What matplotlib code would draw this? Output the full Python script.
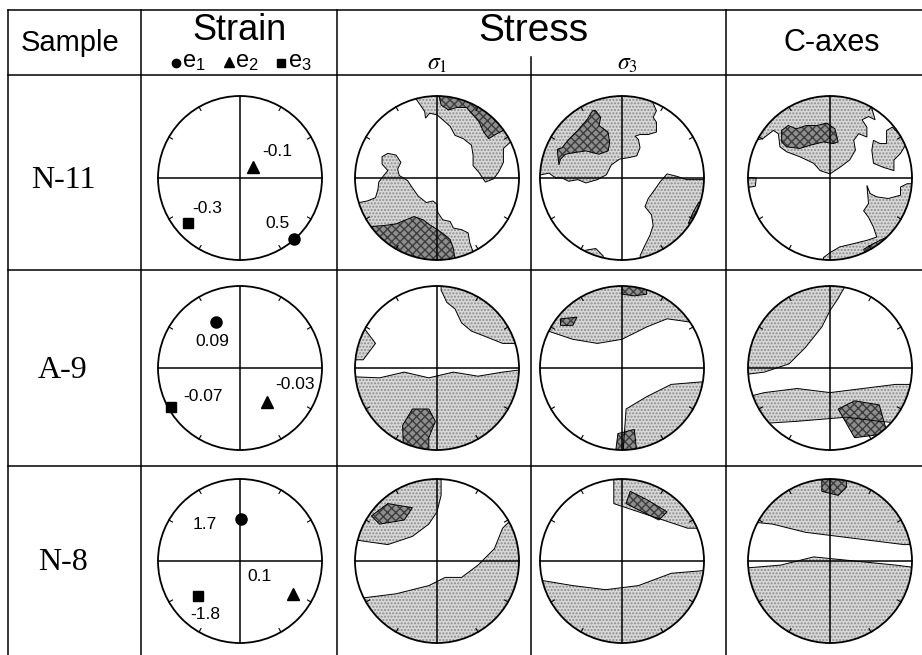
import numpy as np
import matplotlib.pyplot as plt
from matplotlib.patches import Circle, Polygon

plt.rcParams['font.family'] = ['Liberation Sans', 'DejaVu Sans']
plt.rcParams['mathtext.fontset'] = 'stix'

## samples and strain axes (positions inside the net, unit radius)
samples = ["N-11", "A-9", "N-8"]
e1_pos = [(0.66, -0.74), (-0.29, 0.56), (0.01, 0.51)]
e2_pos = [(0.155, 0.138), (0.33, -0.41), (0.65, -0.40)]
e3_pos = [(-0.64, -0.55), (-0.84, -0.475), (-0.51, -0.43)]
e1_val = ["0.5", "0.09", "1.7"]
e2_val = ["-0.1", "-0.03", "0.1"]
e3_val = ["-0.3", "-0.07", "-1.8"]

## density contours, unit radius coords (clipped by the primitive circle)
n11_s1_light = [[(-0.26, 0.97), (-0.19, 0.87), (-0.15, 0.81), (-0.14, 0.73), (-0.09, 0.79), (0, 0.77), (0.07, 0.71),
                 (0.16, 0.63), (0.22, 0.52), (0.32, 0.48), (0.42, 0.40), (0.44, 0.28), (0.44, 0.15), (0.51, 0.07),
                 (0.59, -0.05), (0.69, -0.01), (0.75, 0.07), (0.81, 0.19), (0.81, 0.36), (0.92, 0.46),
                 (1.2, 0.5), (1.2, 1.2), (-0.3, 1.2)],
                [(-0.95, -0.30), (-0.85, -0.28), (-0.75, -0.24), (-0.72, -0.14), (-0.71, -0.05), (-0.65, 0.03),
                 (-0.60, 0.09), (-0.67, 0.17), (-0.67, 0.26), (-0.60, 0.30), (-0.50, 0.28), (-0.44, 0.19),
                 (-0.48, 0.11), (-0.46, 0.03), (-0.36, -0.03), (-0.30, -0.12), (-0.23, -0.22), (-0.13, -0.30),
                 (-0.05, -0.28), (0, -0.32), (0.01, -0.42), (0.07, -0.51), (0.16, -0.53), (0.20, -0.61),
                 (0.30, -0.63), (0.38, -0.67), (0.40, -0.79), (0.44, -0.90), (0.6, -1.2), (-1.2, -1.2), (-1.2, -0.3)]]
n11_s1_dark = [[(0.03, 0.98), (0.05, 0.89), (0.14, 0.83), (0.24, 0.86), (0.36, 0.86), (0.42, 0.79), (0.51, 0.69),
                (0.57, 0.56), (0.63, 0.48), (0.73, 0.54), (0.85, 0.6), (1.2, 0.7), (1.2, 1.2), (0.03, 1.2)],
               [(-0.79, -0.59), (-0.65, -0.58), (-0.50, -0.56), (-0.38, -0.51), (-0.28, -0.47), (-0.17, -0.51),
                (-0.09, -0.57), (-0.01, -0.62), (0.09, -0.69), (0.16, -0.75), (0.20, -0.86), (0.25, -1.2),
                (-1.2, -1.2), (-1.2, -0.6)]]

n11_s3_light = [[(-0.98, 0.04), (-0.89, 0.06), (-0.81, 0), (-0.73, 0), (-0.65, -0.04), (-0.54, -0.02), (-0.44, -0.06),
                 (-0.30, -0.02), (-0.19, 0.04), (-0.13, 0.16), (-0.03, 0.23), (0.09, 0.25), (0.18, 0.27),
                 (0.22, 0.37), (0.20, 0.47), (0.16, 0.51), (0.22, 0.53), (0.32, 0.53), (0.42, 0.56), (0.42, 0.68),
                 (0.38, 0.74), (0.42, 0.82), (0.38, 0.91), (0.4, 1.2), (-1.2, 1.2), (-1.2, 0.04)],
                [(1.0, -0.02), (0.79, -0.02), (0.67, 0.02), (0.55, 0.05), (0.47, -0.04), (0.40, -0.14),
                 (0.32, -0.25), (0.28, -0.35), (0.36, -0.45), (0.38, -0.58), (0.34, -0.70), (0.28, -0.82),
                 (0.22, -0.95), (0.3, -1.2), (1.2, -1.2), (1.2, -0.02)],
                [(-0.52, -0.93), (-0.44, -0.88), (-0.32, -0.86), (-0.23, -0.95), (-0.2, -1.2), (-0.6, -1.2)]]
n11_s3_dark = [[(-0.32, 0.82), (-0.26, 0.74), (-0.28, 0.64), (-0.17, 0.56), (-0.15, 0.43), (-0.17, 0.33),
                (-0.28, 0.29), (-0.44, 0.33), (-0.58, 0.31), (-0.69, 0.29), (-0.75, 0.23), (-0.77, 0.16),
                (-0.79, 0.35), (-0.73, 0.37), (-0.65, 0.47), (-0.54, 0.58), (-0.42, 0.72), (-0.36, 0.82)],
               [(0.94, -0.29), (0.87, -0.41), (0.81, -0.55), (0.83, -0.57), (0.90, -0.45), (0.96, -0.33)]]

n11_c_light = [[(-0.92, 0.46), (-0.82, 0.48), (-0.69, 0.58), (-0.63, 0.54), (-0.61, 0.38), (-0.53, 0.32),
                (-0.37, 0.26), (-0.20, 0.18), (-0.12, 0.09), (0, 0.05), (0.12, 0.13), (0.24, 0.22), (0.31, 0.34),
                (0.29, 0.46), (0.35, 0.54), (0.45, 0.50), (0.45, 0.62), (0.39, 0.71), (0.47, 0.75), (0.55, 0.71),
                (0.51, 0.85), (0.55, 1.2), (-1.2, 1.2), (-1.2, 0.46)],
               [(0.51, 0.34), (0.53, 0.18), (0.65, 0.13), (0.78, 0.09), (0.78, 0.22), (0.86, 0.30), (0.92, 0.40),
                (0.84, 0.54), (0.76, 0.62), (0.69, 0.58), (0.69, 0.42), (0.61, 0.42), (0.53, 0.46)],
               [(0.94, -0.07), (0.86, -0.11), (0.86, -0.21), (0.71, -0.25), (0.57, -0.23), (0.49, -0.19),
                (0.45, -0.09), (0.47, -0.31), (0.41, -0.40), (0.47, -0.48), (0.53, -0.60), (0.57, -0.72),
                (0.45, -0.76), (0.29, -0.80), (0.12, -0.84), (0, -0.91), (-0.08, -0.97), (-0.1, -1.2),
                (1.2, -1.2), (1.2, -0.07)],
               [(-1.2, 0.02), (-0.90, 0.0), (-0.91, -0.10), (-1.2, -0.15)]]
n11_c_dark = [[(-0.59, 0.58), (-0.59, 0.44), (-0.53, 0.38), (-0.37, 0.36), (-0.24, 0.40), (-0.08, 0.44),
               (0.04, 0.42), (0.10, 0.44), (0.08, 0.52), (0.06, 0.60), (-0.04, 0.67), (-0.16, 0.64),
               (-0.29, 0.64), (-0.41, 0.60), (-0.51, 0.64)],
              [(0.41, -0.87), (0.53, -0.80), (0.65, -0.74), (0.75, -0.70), (0.9, -0.8), (0.5, -1.1)]]

a9_s1_light = [[(0.05, 1.2), (0.05, 0.95), (0.12, 0.8), (0.22, 0.72), (0.3, 0.55), (0.42, 0.45), (0.6, 0.38),
                (0.8, 0.3), (1.2, 0.3), (1.2, 1.2)],
               [(-1.2, -0.1), (-0.7, -0.12), (-0.4, -0.05), (-0.1, -0.12), (0.2, -0.05), (0.5, -0.1),
                (0.8, -0.05), (1.2, 0), (1.2, -1.2), (-1.2, -1.2)],
               [(-1.2, 0.6), (-0.9, 0.5), (-0.75, 0.3), (-0.9, 0.1), (-1.2, 0.1)]]
a9_s1_dark = [[(-0.4, -1.2), (-0.42, -0.7), (-0.3, -0.5), (-0.1, -0.5), (-0.02, -0.65), (-0.1, -0.85), (-0.1, -1.2)]]

a9_s3_light = [[(-1.2, 0.5), (-0.9, 0.45), (-0.6, 0.35), (-0.3, 0.3), (0, 0.35), (0.3, 0.5), (0.55, 0.6),
                (0.9, 0.55), (1.2, 0.6), (1.2, 1.2), (-1.2, 1.2)],
               [(0.0, -1.2), (0.05, -0.5), (0.3, -0.35), (0.6, -0.2), (1.2, -0.15), (1.2, -1.2)]]
a9_s3_dark = [[(0.0, 1.2), (0.0, 0.9), (0.15, 0.88), (0.3, 0.9), (0.3, 1.2)],
              [(-0.75, 0.6), (-0.55, 0.62), (-0.6, 0.52), (-0.75, 0.52)],
              [(-0.1, -1.2), (-0.05, -0.8), (0.15, -0.75), (0.2, -1.2)]]

a9_c_light = [[(-1.2, 1.2), (-1.2, -0.1), (-0.8, -0.05), (-0.5, 0.05), (-0.3, 0.25), (-0.1, 0.5), (0.0, 0.7),
               (0.1, 0.85), (0.3, 1.2)],
              [(-1.2, -0.4), (-0.8, -0.3), (-0.4, -0.25), (0, -0.3), (0.4, -0.25), (0.8, -0.2), (1.2, -0.2),
               (1.2, -0.7), (0.6, -0.65), (0.2, -0.6), (-0.4, -0.65), (-1.2, -0.7)]]
a9_c_dark = [[(0.1, -0.5), (0.3, -0.4), (0.6, -0.45), (0.7, -0.8), (0.3, -0.85)]]

n8_s1_light = [[(-1.2, 1.2), (-1.2, 0.25), (-0.95, 0.25), (-0.6, 0.2), (-0.3, 0.3), (-0.1, 0.45), (0.0, 0.6),
                (0.05, 0.8), (0.05, 1.2)],
               [(-1.2, -0.45), (-0.9, -0.45), (-0.5, -0.4), (-0.1, -0.3), (0.1, -0.2), (0.3, -0.2),
                (0.5, -0.05), (0.7, 0.15), (0.8, 0.4), (0.9, 0.5), (1.2, 0.6), (1.2, -1.2), (-1.2, -1.2)]]
n8_s1_dark = [[(-0.8, 0.55), (-0.6, 0.7), (-0.3, 0.65), (-0.4, 0.5), (-0.7, 0.45)]]

n8_s3_light = [[(-0.1, 1.2), (-0.1, 0.7), (0.2, 0.6), (0.5, 0.5), (0.8, 0.4), (1.2, 0.4), (1.2, 1.2)],
               [(-1.2, -0.2), (-0.6, -0.3), (-0.2, -0.35), (0.2, -0.3), (0.6, -0.15), (1.2, -0.1),
                (1.2, -1.2), (-1.2, -1.2)]]
n8_s3_dark = [[(0.1, 0.85), (0.3, 0.75), (0.55, 0.6), (0.45, 0.5), (0.25, 0.6), (0.05, 0.7)]]

n8_c_light = [[(-1.2, 1.2), (-1.2, 0.5), (-0.7, 0.45), (-0.3, 0.35), (0.1, 0.3), (0.5, 0.25), (0.9, 0.2),
               (1.2, 0.2), (1.2, 1.2)],
              [(-1.2, -0.1), (-0.6, -0.05), (-0.2, 0.05), (0.3, 0.0), (0.8, -0.05), (1.2, -0.1),
               (1.2, -1.2), (-1.2, -1.2)]]
n8_c_dark = [[(-0.1, 1.2), (-0.1, 0.85), (0.1, 0.8), (0.2, 0.9), (0.2, 1.2)]]

nets = [[(n11_s1_light, n11_s1_dark), (n11_s3_light, n11_s3_dark), (n11_c_light, n11_c_dark)],
        [(a9_s1_light, a9_s1_dark), (a9_s3_light, a9_s3_dark), (a9_c_light, a9_c_dark)],
        [(n8_s1_light, n8_s1_dark), (n8_s3_light, n8_s3_dark), (n8_c_light, n8_c_dark)]]

## layout (pixels)
R = 82
row_y = [178, 368, 561]
col_x = [240, 437, 622, 830]
label_off = [[(-17, -15), (25, -15), (20, -15)],
             [(-4, 19), (28, -17), (32, -10)],
             [(-36, 5), (-34, -17), (7, 18)]]

fig = plt.figure(figsize=(9.22, 6.55), dpi=100)
ax = fig.add_axes([0, 0, 1, 1])
ax.set_xlim(0, 922)
ax.set_ylim(655, 0)
ax.axis('off')

## table grid
lw = 1.1
for y in [10, 75, 270, 466]:
    ax.plot([8, 922], [y, y], color='k', lw=lw)
for x in [8, 141, 337, 726]:
    ax.plot([x, x], [10, 655], color='k', lw=lw)
ax.plot([531, 531], [57, 655], color='k', lw=lw)

## header
ax.text(70, 43, "Sample", fontsize=21, ha='center', va='center')
ax.text(240, 31, "Strain", fontsize=26, ha='center', va='center')
ax.text(533, 31, "Stress", fontsize=28, ha='center', va='center')
ax.text(832, 43, "C-axes", fontsize=22, ha='center', va='center')
ax.plot(176, 63, 'o', color='k', ms=6)
ax.plot(229, 62, '^', color='k', ms=7)
ax.plot(281, 63, 's', color='k', ms=5.5)
for x, s in [(194, "1"), (247, "2"), (300, "3")]:
    ax.text(x, 62, r"$\mathregular{e_%s}$" % s, fontsize=17, ha='center', va='center',
            family='Liberation Sans')
ax.text(437, 64, r"$\sigma_1$", fontsize=17, ha='center', va='center')
ax.text(627, 64, r"$\sigma_3$", fontsize=17, ha='center', va='center')

for i, name in enumerate(samples):
    ax.text(63, row_y[i] + 2, name, fontsize=23, ha='center', va='center', family='Liberation Serif')


def draw_frame(cx, cy):
    ax.add_patch(Circle((cx, cy), R, fill=False, ec='k', lw=1.3, zorder=4))
    ax.plot([cx - R, cx + R], [cy, cy], color='k', lw=1.1, zorder=4)
    ax.plot([cx, cx], [cy - R, cy + R], color='k', lw=1.1, zorder=4)
    for a in np.deg2rad(np.arange(0, 360, 30)):
        if np.isclose(np.sin(2 * a), 0, atol=1e-6):
            continue
        ax.plot([cx + R * np.cos(a), cx + (R - 4) * np.cos(a)],
                [cy - R * np.sin(a), cy - (R - 4) * np.sin(a)], color='k', lw=0.8, zorder=4)


def draw_net(cx, cy, light, dark):
    clip = Circle((cx, cy), R, transform=ax.transData)
    for polys, fc, hc, hatch in [(light, '#d8d8d8', '#8c8c8c', '.....'),
                                 (dark, '#8e8e8e', '#3c3c3c', 'xxxx')]:
        for poly in polys:
            pts = np.array(poly)
            xy = np.column_stack([cx + R * pts[:, 0], cy - R * pts[:, 1]])
            fill = Polygon(xy, closed=True, fc=fc, ec=hc, hatch=hatch, lw=0, zorder=2)
            fill.set_clip_path(clip)
            ax.add_patch(fill)
            edge = Polygon(xy, closed=True, fill=False, ec='k', lw=0.7, zorder=3)
            edge.set_clip_path(clip)
            ax.add_patch(edge)
    draw_frame(cx, cy)


for i in range(3):
    cy = row_y[i]
    ## strain net
    cx = col_x[0]
    draw_frame(cx, cy)
    for j, (pos, val, m, ms) in enumerate([(e1_pos[i], e1_val[i], 'o', 8),
                                           (e2_pos[i], e2_val[i], '^', 9),
                                           (e3_pos[i], e3_val[i], 's', 6.5)]):
        px, py = cx + R * pos[0], cy - R * pos[1]
        ax.plot(px, py, m, color='k', ms=ms, zorder=5)
        dx, dy = label_off[i][j]
        ax.text(px + dx, py + dy, val, fontsize=12.5, ha='center', va='center', zorder=5)
    ## stress and c-axis nets
    for k in range(3):
        light, dark = nets[i][k]
        draw_net(col_x[k + 1], cy, light, dark)

fig.savefig("out.png", dpi=100)
